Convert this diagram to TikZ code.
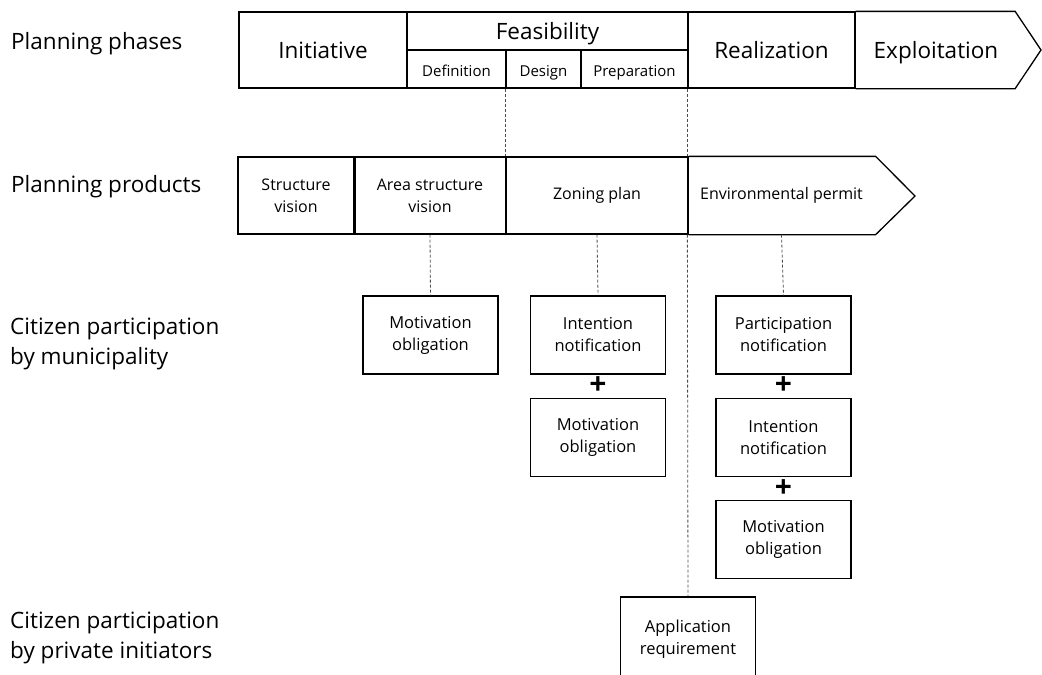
\documentclass[tikz,border=0pt]{standalone}
\usepackage{fontspec}
\setmainfont{Open Sans}
\usetikzlibrary{positioning}

\begin{document}
\begin{tikzpicture}[x=1pt,y=-1pt,node distance=23pt,
   rowlabel/.style={anchor=west,align=left,inner sep=0pt,font=\fontsize{22.5}{30}\selectfont},
   phase/.style={draw,line width=1.3pt,inner sep=0pt,minimum height=76pt,text height=20pt,text depth=4pt,font=\fontsize{22.5}{27}\selectfont},
   subphase/.style={draw,line width=1.3pt,inner sep=0pt,minimum height=38pt,text height=18pt,text depth=4pt,font=\fontsize{15}{18}\selectfont},
   product/.style={draw,line width=1.3pt,inner sep=0pt,minimum height=77pt,align=center,font=\fontsize{16}{22}\selectfont},
   act/.style={draw,line width=1.1pt,inner sep=0pt,minimum width=135pt,minimum height=78pt,align=center,font=\fontsize{16.5}{22}\selectfont},
   plus/.style={inner sep=0pt,font=\fontsize{30}{30}\selectfont\bfseries},
   dashline/.style={draw=black!70,line width=0.8pt,dash pattern=on 3pt off 2pt}]
   \useasboundingbox (0,0) rectangle (1042,675);

   \node[rowlabel] (lab_phases) at (11,44) {Planning phases};
   \node[rowlabel] (lab_products) at (11,187) {Planning products};
   \node[rowlabel] (lab_muni) at (10,344) {Citizen participation\\by municipality};
   \node[rowlabel] (lab_private) at (10,638) {Citizen participation\\by private initiators};

   \node[phase,minimum width=168pt] (initiative) at (323,50) {Initiative};
   \node[subphase,minimum width=281pt,text height=20pt,text depth=4pt,font=\fontsize{22.5}{27}\selectfont] (feasibility) at (547.5,31) {Feasibility};
   \node[subphase,minimum width=99pt] (definition) at (456.5,69) {Definition};
   \node[subphase,minimum width=75pt] (design) at (543.5,69) {Design};
   \node[subphase,minimum width=107pt] (preparation) at (634.5,69) {Preparation};
   \node[phase,minimum width=167pt] (realization) at (771.5,50) {Realization};
   \node[phase,draw=none,minimum width=157pt] (exploitation) at (936,50) {Exploitation};
   \coordinate (phase_tip) at (1041,50);
   \draw[line width=1.3pt,line join=miter] (realization.north east) -- (exploitation.north east)
      -- (phase_tip) -- (exploitation.south east) -- (realization.south east);

   \node[product,minimum width=116pt] (structure) at (296,195.5) {Structure\\vision};
   \node[product,minimum width=152pt] (area) at (430,195.5) {Area structure\\vision};
   \node[product,minimum width=182pt] (zoning) at (597,195.5) {Zoning plan};
   \node[product,draw=none,minimum width=187pt] (permit) at (781.5,195.5) {Environmental permit};
   \coordinate (product_tip) at (915,196);
   \draw[line width=1.3pt,line join=miter] (zoning.north east) -- (permit.north east)
      -- (product_tip) -- (permit.south east) -- (zoning.south east);
   \draw[line width=2.4pt] (structure.north east) -- (structure.south east);

   \node[act] (mot_a) at (430.5,335) {Motivation\\obligation};
   \node[act] (int_b) at (598,335) {Intention\\notification};
   \node[act] (mot_b) [below=of int_b] {Motivation\\obligation};
   \node[act] (part_c) at (783.5,335) {Participation\\notification};
   \node[act] (int_c) [below=of part_c] {Intention\\notification};
   \node[act] (mot_c) [below=of int_c] {Motivation\\obligation};
   \node[act,minimum height=84pt] (appl) at (688,639) {Application\\requirement};

   \path (int_b) -- node[plus] {+} (mot_b);
   \path (part_c) -- node[plus] {+} (int_c);
   \path (int_c) -- node[plus] {+} (mot_c);

   \path[dashline]
    (design.south west) edge (zoning.north west)
    (realization.south west) edge (permit.north west)
    (permit.south west) edge (appl.north)
    (area.south) edge (mot_a.north)
    (zoning.south) edge (int_b.north)
    (permit.south) edge (part_c.north);
\end{tikzpicture}
\end{document}
